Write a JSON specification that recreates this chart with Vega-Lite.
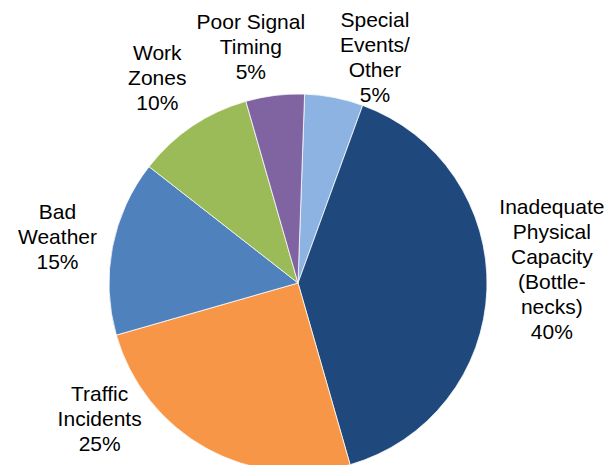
{
  "$schema": "https://vega.github.io/schema/vega-lite/v6.json",
  "width": 378,
  "height": 362,
  "autosize": {"type": "none"},
  "padding": {"left": 109, "top": 102, "right": 122, "bottom": 1},
  "background": "white",
  "config": {"view": {"stroke": null}},
  "data": {
    "values": [
      {"rank": 1, "cause": "Special Events/Other", "label": "Special\nEvents/\nOther\n5%", "share": 5},
      {"rank": 2, "cause": "Inadequate Physical Capacity", "label": "Inadequate\nPhysical\nCapacity\n(Bottle-\nnecks)\n40%", "share": 40},
      {"rank": 3, "cause": "Traffic Incidents", "label": "Traffic\nIncidents\n25%", "share": 25},
      {"rank": 4, "cause": "Bad Weather", "label": "Bad\nWeather\n15%", "share": 15},
      {"rank": 5, "cause": "Work Zones", "label": "Work\nZones\n10%", "share": 10},
      {"rank": 6, "cause": "Poor Signal Timing", "label": "Poor Signal\nTiming\n5%", "share": 5}
    ]
  },
  "encoding": {
    "theta": {"field": "share", "type": "quantitative", "stack": true, "scale": {"range": [0.035, 6.318]}},
    "order": {"field": "rank", "type": "quantitative"}
  },
  "layer": [
    {
      "mark": {"type": "arc", "radius": 189, "stroke": "white", "strokeWidth": 0.75},
      "encoding": {
        "color": {
          "field": "cause",
          "type": "nominal",
          "scale": {
            "domain": ["Special Events/Other", "Inadequate Physical Capacity", "Traffic Incidents", "Bad Weather", "Work Zones", "Poor Signal Timing"],
            "range": ["#8DB3E2", "#1F497D", "#F79646", "#4F81BD", "#9BBB59", "#8064A2"]
          },
          "legend": null
        }
      }
    },
    {
      "mark": {"type": "text", "radius": 230, "dx": 33, "dy": -36, "fontSize": 21, "font": "Liberation Sans", "lineBreak": "\n", "lineHeight": 25, "align": "center", "baseline": "middle", "color": "black"},
      "encoding": {"text": {"condition": {"test": "datum.rank == 1", "field": "label", "type": "nominal"}, "value": ""}}
    },
    {
      "mark": {"type": "text", "radius": 254, "dx": 0, "dy": -84, "fontSize": 21, "font": "Liberation Sans", "lineBreak": "\n", "lineHeight": 25, "align": "center", "baseline": "middle", "color": "black"},
      "encoding": {"text": {"condition": {"test": "datum.rank == 2", "field": "label", "type": "nominal"}, "value": ""}}
    },
    {
      "mark": {"type": "text", "radius": 240, "dx": -82, "dy": -98, "fontSize": 21, "font": "Liberation Sans", "lineBreak": "\n", "lineHeight": 25, "align": "center", "baseline": "middle", "color": "black"},
      "encoding": {"text": {"condition": {"test": "datum.rank == 3", "field": "label", "type": "nominal"}, "value": ""}}
    },
    {
      "mark": {"type": "text", "radius": 245, "dx": 0, "dy": -23, "fontSize": 21, "font": "Liberation Sans", "lineBreak": "\n", "lineHeight": 25, "align": "center", "baseline": "middle", "color": "black"},
      "encoding": {"text": {"condition": {"test": "datum.rank == 4", "field": "label", "type": "nominal"}, "value": ""}}
    },
    {
      "mark": {"type": "text", "radius": 248, "dx": -2, "dy": -23, "fontSize": 21, "font": "Liberation Sans", "lineBreak": "\n", "lineHeight": 25, "align": "center", "baseline": "middle", "color": "black"},
      "encoding": {"text": {"condition": {"test": "datum.rank == 5", "field": "label", "type": "nominal"}, "value": ""}}
    },
    {
      "mark": {"type": "text", "radius": 239, "dx": -18, "dy": -23, "fontSize": 21, "font": "Liberation Sans", "lineBreak": "\n", "lineHeight": 25, "align": "center", "baseline": "middle", "color": "black"},
      "encoding": {"text": {"condition": {"test": "datum.rank == 6", "field": "label", "type": "nominal"}, "value": ""}}
    }
  ]
}
